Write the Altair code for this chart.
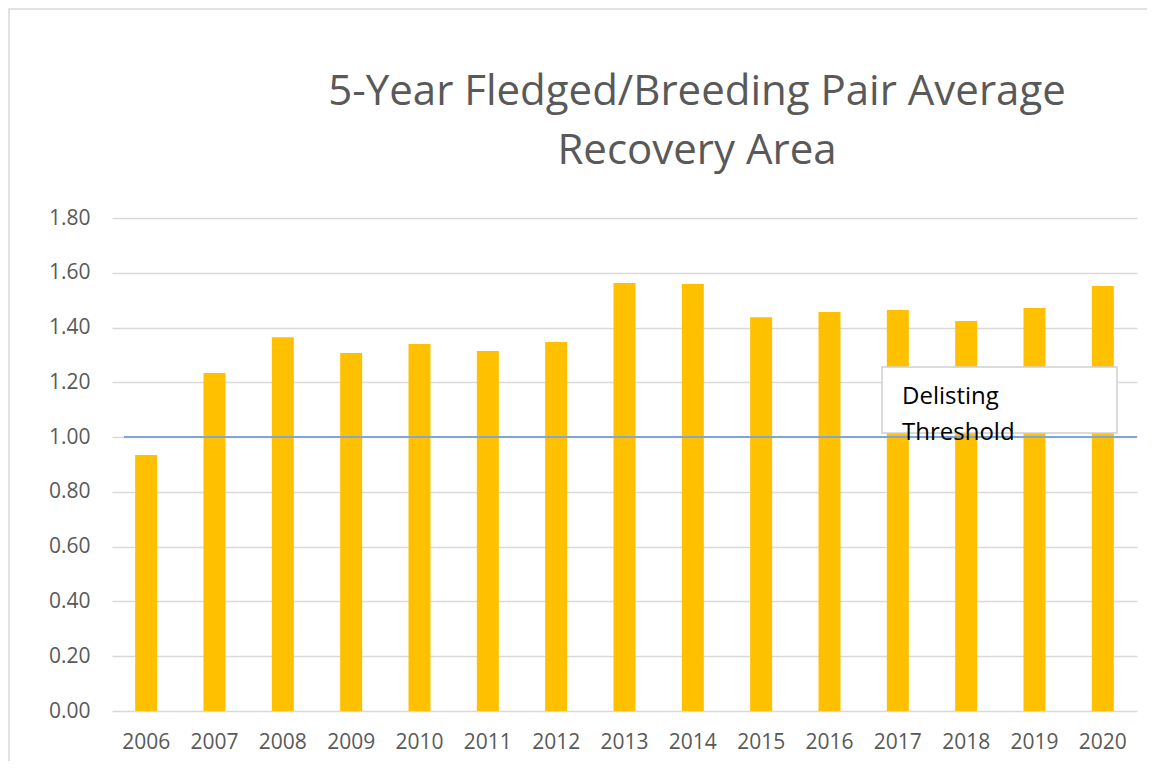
import altair as alt
import pandas as pd

years = ["2006", "2007", "2008", "2009", "2010", "2011", "2012", "2013",
         "2014", "2015", "2016", "2017", "2018", "2019", "2020"]
values = [0.935, 1.234, 1.365, 1.307, 1.340, 1.314, 1.347, 1.563,
          1.559, 1.438, 1.457, 1.464, 1.424, 1.471, 1.552]
threshold = [1.0]
note_lines = ["Delisting", "Threshold"]
title_lines = ["5-Year Fledged/Breeding Pair Average", "Recovery Area"]

FONT = "Open Sans"
W, H = 1025, 493

df = pd.DataFrame({"year": years, "value": values})

frame = alt.Chart(pd.DataFrame({"a": [0]})).mark_rect(
    fillOpacity=0, stroke="#d9d9d9", strokeWidth=1.5, clip=False
).encode(x=alt.value(-103), x2=alt.value(1036), y=alt.value(-209), y2=alt.value(560))

bars = alt.Chart(df).mark_bar(color="#FFC000", size=22).encode(
    x=alt.X("year:N", sort=years, title=None,
            scale=alt.Scale(paddingInner=0.68, paddingOuter=0.34),
            axis=alt.Axis(labelAngle=0, labelFont=FONT, labelFontSize=21,
                          labelColor="#595959", labelPadding=20, ticks=False,
                          domain=False, grid=False)),
    y=alt.Y("value:Q", title=None,
            scale=alt.Scale(domain=[0, 1.8]),
            axis=alt.Axis(values=[0, 0.2, 0.4, 0.6, 0.8, 1.0, 1.2, 1.4, 1.6, 1.8],
                          format=".2f", labelFont=FONT, labelFontSize=21,
                          labelColor="#595959", labelPadding=22, ticks=False,
                          domain=False, gridColor="#d9d9d9", gridWidth=1.5)),
)

box = alt.Chart(pd.DataFrame({"a": [0]})).mark_rect(
    fill="white", stroke="#d0d0d0", strokeWidth=1.5
).encode(x=alt.value(770), x2=alt.value(1005), y=alt.value(149), y2=alt.value(215))

rule = alt.Chart(pd.DataFrame({"t": threshold})).mark_rule(
    color="#7FA6D4", strokeWidth=2
).encode(y="t:Q", x=alt.value(12), x2=alt.value(W))

note = alt.Chart(pd.DataFrame({"line": [note_lines[0] + "\n" + note_lines[1]]})).mark_text(
    align="left", baseline="alphabetic", font=FONT, fontSize=24, color="#000000",
    lineHeight=36, lineBreak="\n"
).encode(text="line:N", x=alt.value(790), y=alt.value(186))

title = alt.Chart(pd.DataFrame({"line": [title_lines[0] + "\n" + title_lines[1]]})).mark_text(
    align="center", baseline="alphabetic", font=FONT, fontSize=42, color="#595959",
    lineHeight=59, lineBreak="\n"
).encode(text="line:N", x=alt.value(585), y=alt.value(-113))

chart = alt.layer(frame, bars, box, rule, note, title).properties(
    width=W, height=H,
    padding={"left": 104, "top": 210, "right": 10, "bottom": 50},
    autosize=alt.AutoSizeParams(type="none"),
).configure(background="white").configure_view(stroke=None)

chart.save("out.html", embed_options={"renderer": "svg", "actions": False})
